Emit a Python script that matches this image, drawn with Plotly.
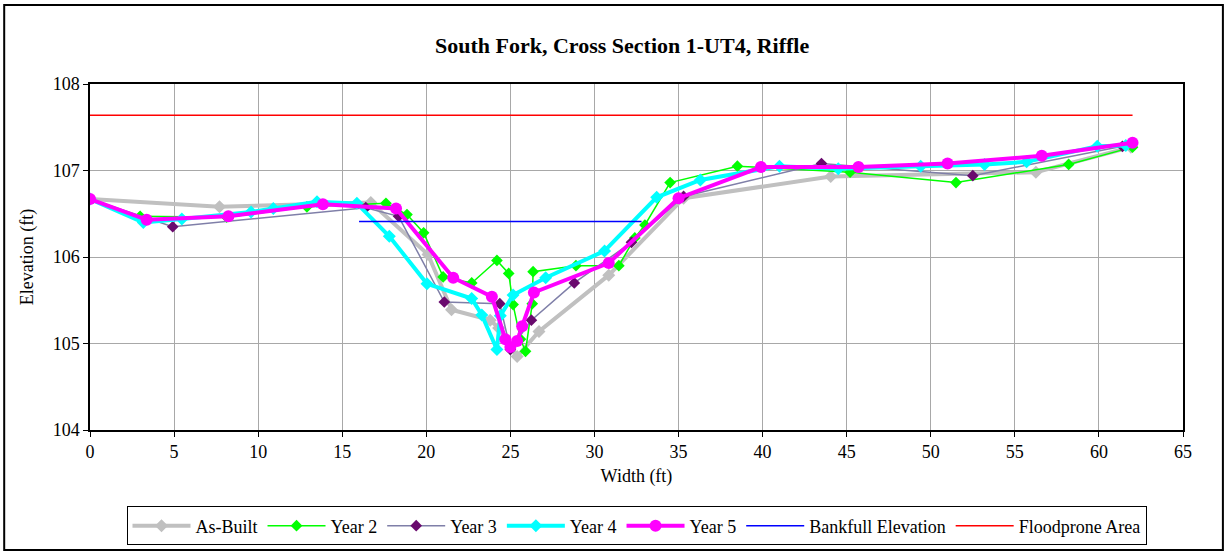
import plotly.graph_objects as go

# Cross-section survey data: width (ft) and elevation (ft)
asbuilt_x = [0, 7.7, 16.7, 20.1, 21.5, 23.8, 24.3, 25.4, 26.7, 30.85, 35.3, 44.05, 56.25, 61.9]
asbuilt_y = [106.67, 106.58, 106.63, 106.03, 105.39, 105.27, 105.18, 104.85, 105.14, 105.79, 106.68, 106.93, 106.98, 107.27]

year2_x = [0, 2.98, 8.13, 12.9, 17.6, 18.85, 19.84, 21.0, 22.7, 24.2, 24.9, 25.16, 25.6, 25.9, 26.3, 26.35,
           28.9, 31.45, 32.4, 33.0, 34.5, 38.5, 45.2, 51.5, 58.2, 62.0]
year2_y = [106.67, 106.47, 106.46, 106.58, 106.62, 106.49, 106.28, 105.77, 105.70, 105.96, 105.81, 105.45, 105.05, 104.91, 105.46, 105.83,
           105.90, 105.90, 106.22, 106.37, 106.86, 107.05, 106.98, 106.86, 107.07, 107.27]

year3_x = [0, 4.92, 16.4, 18.35, 21.07, 24.37, 25.0, 26.25, 28.8, 32.2, 35.3, 43.5, 52.5, 61.4]
year3_y = [106.67, 106.35, 106.57, 106.47, 105.48, 105.46, 104.93, 105.27, 105.70, 106.17, 106.70, 107.08, 106.94, 107.28]

year4_x = [0, 3.17, 5.46, 9.58, 10.9, 13.5, 15.87, 17.8, 20.04, 22.7, 23.3, 24.2, 24.4, 25.16, 27.1, 30.6,
           33.7, 36.3, 41.0, 44.5, 49.4, 53.2, 55.7, 59.9, 61.6]
year4_y = [106.67, 106.40, 106.44, 106.52, 106.56, 106.64, 106.62, 106.24, 105.69, 105.52, 105.33, 104.93, 105.32, 105.56, 105.76, 106.07,
           106.69, 106.89, 107.05, 107.02, 107.05, 107.07, 107.10, 107.28, 107.29]

year5_x = [0, 3.37, 8.23, 13.85, 18.2, 21.6, 23.9, 24.7, 25.0, 25.4, 25.7, 26.4, 30.85, 35.0, 39.9, 45.7, 51.0, 56.6, 62.0]
year5_y = [106.67, 106.43, 106.47, 106.61, 106.56, 105.76, 105.54, 105.05, 104.96, 105.03, 105.20, 105.59, 105.93, 106.68, 107.04, 107.04, 107.08, 107.17, 107.32]

bankfull_x = [16.0, 32.8]
bankfull_y = [106.41, 106.41]

floodprone_x = [0, 62.0]
floodprone_y = [107.64, 107.64]

FONT = "Liberation Serif, Times New Roman, serif"

fig = go.Figure()

fig.add_trace(go.Scatter(x=asbuilt_x, y=asbuilt_y, name="As-Built", mode="lines+markers",
                         line=dict(color="#c0c0c0", width=4),
                         marker=dict(symbol="diamond", size=10, color="#c0c0c0")))
fig.add_trace(go.Scatter(x=year2_x, y=year2_y, name="Year 2", mode="lines+markers",
                         line=dict(color="#00ff00", width=1.5),
                         marker=dict(symbol="diamond", size=9, color="#00ff00")))
fig.add_trace(go.Scatter(x=year3_x, y=year3_y, name="Year 3", mode="lines+markers",
                         line=dict(color="#7f7fa8", width=1.5),
                         marker=dict(symbol="diamond", size=9, color="#6a0a6e")))
fig.add_trace(go.Scatter(x=year4_x, y=year4_y, name="Year 4", mode="lines+markers",
                         line=dict(color="#00ffff", width=4),
                         marker=dict(symbol="diamond", size=10, color="#00ffff")))
fig.add_trace(go.Scatter(x=year5_x, y=year5_y, name="Year 5", mode="lines+markers",
                         line=dict(color="#ff00ff", width=4),
                         marker=dict(symbol="circle", size=12, color="#ff00ff")))
fig.add_trace(go.Scatter(x=bankfull_x, y=bankfull_y, name="Bankfull Elevation", mode="lines",
                         line=dict(color="#0000ff", width=1.5)))
fig.add_trace(go.Scatter(x=floodprone_x, y=floodprone_y, name="Floodprone Area", mode="lines",
                         line=dict(color="#ff0000", width=1.5)))

fig.update_layout(
    width=1227, height=554,
    margin=dict(l=90, r=44, t=84, b=124, autoexpand=False),
    paper_bgcolor="white", plot_bgcolor="white",
    font=dict(family=FONT, size=18, color="black"),
    title=dict(text="<b>South Fork, Cross Section 1-UT4, Riffle</b>",
               x=0.507, xanchor="center", y=0.918, yanchor="middle",
               font=dict(family=FONT, size=22, color="black")),
    showlegend=True,
    legend=dict(orientation="h", x=0.5, xanchor="center", y=-0.221, yanchor="top",
                bordercolor="black", borderwidth=1, bgcolor="white",
                font=dict(family=FONT, size=18), itemwidth=58,
                tracegroupgap=0),
    shapes=[dict(type="rect", xref="paper", yref="paper",
                 x0=-0.0785, x1=1.0365, y0=-0.347, y1=1.228,
                 line=dict(color="black", width=2), fillcolor="rgba(0,0,0,0)", layer="below")],
)

fig.update_xaxes(range=[0, 65], dtick=5, tick0=0, automargin=False,
                 showgrid=True, gridcolor="#a8a8a8", gridwidth=1,
                 showline=True, linecolor="black", linewidth=1.5, mirror=True,
                 ticks="outside", ticklen=5, tickcolor="black",
                 zeroline=False,
                 title=dict(text="Width (ft)", standoff=8, font=dict(family=FONT, size=18)),
                 tickfont=dict(family=FONT, size=18))
fig.update_yaxes(range=[104, 108], dtick=1, tick0=104, automargin=False,
                 showgrid=True, gridcolor="#a8a8a8", gridwidth=1,
                 showline=True, linecolor="black", linewidth=1.5, mirror=True,
                 ticks="outside", ticklen=5, tickcolor="black",
                 zeroline=False,
                 title=dict(text="Elevation (ft)", standoff=14, font=dict(family=FONT, size=18)),
                 tickfont=dict(family=FONT, size=18))

fig.write_html("out.html")
